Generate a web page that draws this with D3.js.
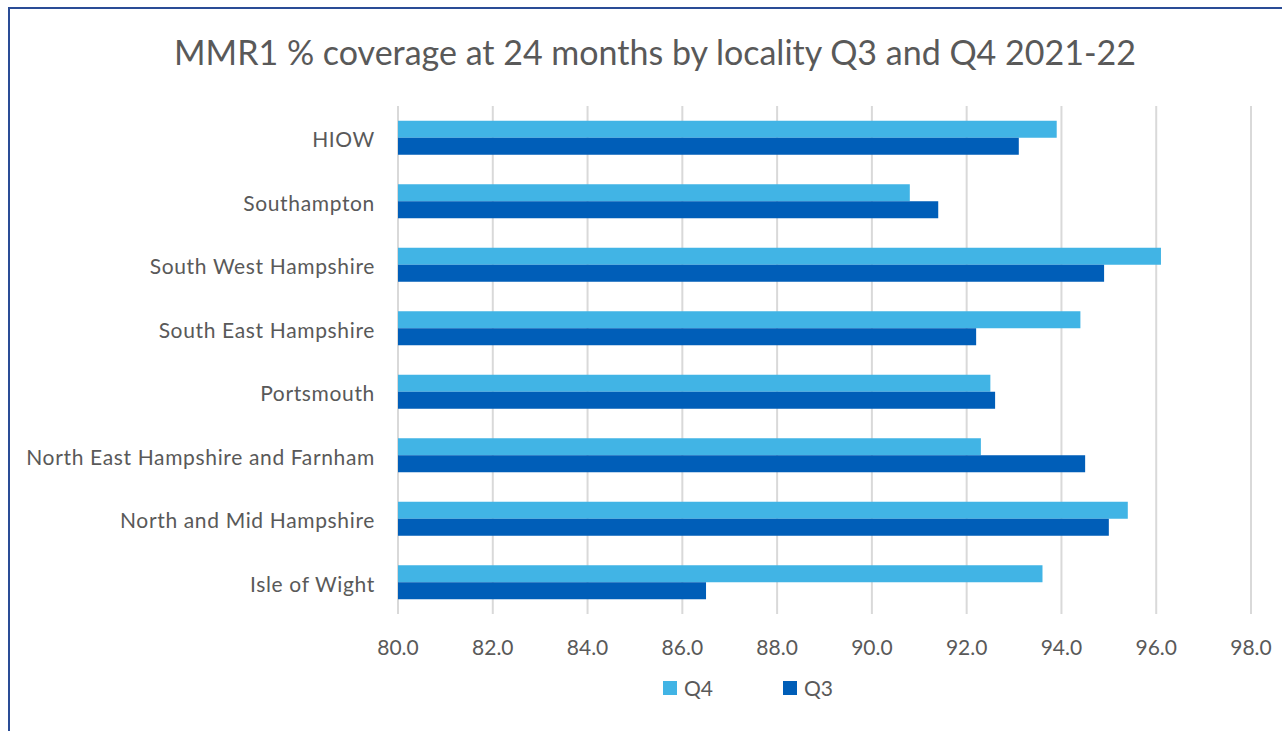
<!doctype html>
<html>
<head>
    <meta charset="UTF-8">
    <title>MMR1 coverage</title>
    <script src="https://d3js.org/d3.v7.min.js"></script>
    <style>
        body { margin: 0; background: #fff; }
        text { font-family: Lato, "Open Sans", sans-serif; fill: #595959; }
    </style>
</head>
<body>
    <script>
        // data
        var localities = ["HIOW", "Southampton", "South West Hampshire", "South East Hampshire",
            "Portsmouth", "North East Hampshire and Farnham", "North and Mid Hampshire", "Isle of Wight"];
        var q4 = [93.9, 90.8, 96.1, 94.4, 92.5, 92.3, 95.4, 93.6];
        var q3 = [93.1, 91.4, 94.9, 92.2, 92.6, 94.5, 95.0, 86.5];
        var series = ["Q4", "Q3"];
        var colors = ["#41B4E5", "#005EB8"];
        var ticks = [80, 82, 84, 86, 88, 90, 92, 94, 96, 98];

        var w = 1282, h = 731;
        var plotLeft = 398, plotRight = 1251, plotTop = 106, plotBottom = 614;

        var svg = d3.select("body").append("svg")
            .attr("width", w).attr("height", h);

        // chart frame
        svg.append("rect")
            .attr("x", 9).attr("y", 8)
            .attr("width", w + 20).attr("height", h + 20)
            .attr("fill", "none")
            .attr("stroke", "#2A4C96")
            .attr("stroke-width", 2);

        svg.append("text")
            .attr("x", 655).attr("y", 65)
            .attr("text-anchor", "middle")
            .style("font-size", "34px")
            .text("MMR1 % coverage at 24 months by locality Q3 and Q4 2021-22");

        var x = d3.scaleLinear().domain([80, 98]).range([plotLeft, plotRight]);
        var y = d3.scaleBand().domain(localities).range([plotTop, plotBottom]);
        var inner = d3.scaleBand().domain(series).range([0, 34]);
        var groupOffset = (y.bandwidth() - 34) / 2;

        // gridlines
        svg.append("g").selectAll("line")
            .data(ticks)
            .enter().append("line")
            .attr("x1", function (d) { return x(d); })
            .attr("x2", function (d) { return x(d); })
            .attr("y1", plotTop).attr("y2", plotBottom)
            .attr("stroke", "#D9D9D9")
            .attr("stroke-width", 2);

        var rows = localities.map(function (name, i) {
            return { name: name, values: [q4[i], q3[i]] };
        });

        var groups = svg.append("g").selectAll("g")
            .data(rows)
            .enter().append("g")
            .attr("transform", function (d) { return "translate(0," + (y(d.name) + groupOffset) + ")"; });

        groups.selectAll("rect")
            .data(function (d) { return d.values; })
            .enter().append("rect")
            .attr("x", x(80))
            .attr("y", function (d, i) { return inner(series[i]); })
            .attr("width", function (d) { return x(d) - x(80); })
            .attr("height", inner.bandwidth())
            .attr("fill", function (d, i) { return colors[i]; });

        // category labels
        svg.append("g").selectAll("text")
            .data(localities)
            .enter().append("text")
            .attr("x", 375)
            .attr("y", function (d) { return y(d) + y.bandwidth() / 2 + 2; })
            .attr("dy", "0.35em")
            .attr("text-anchor", "end")
            .style("font-size", "21px")
            .style("letter-spacing", "0.65px")
            .text(function (d) { return d; });

        // tick labels
        svg.append("g").selectAll("text")
            .data(ticks)
            .enter().append("text")
            .attr("x", function (d) { return x(d); })
            .attr("y", 655)
            .attr("text-anchor", "middle")
            .style("font-size", "21px")
            .text(function (d) { return d3.format(".1f")(d); });

        // legend
        var legend = svg.append("g").selectAll("g")
            .data(series)
            .enter().append("g")
            .attr("transform", function (d, i) { return "translate(" + (663 + i * 120) + ",681)"; });
        legend.append("rect")
            .attr("width", 14).attr("height", 14)
            .attr("fill", function (d, i) { return colors[i]; });
        legend.append("text")
            .attr("x", 21).attr("y", 15)
            .style("font-size", "21px")
            .text(function (d) { return d; });
    </script>
</body>
</html>
